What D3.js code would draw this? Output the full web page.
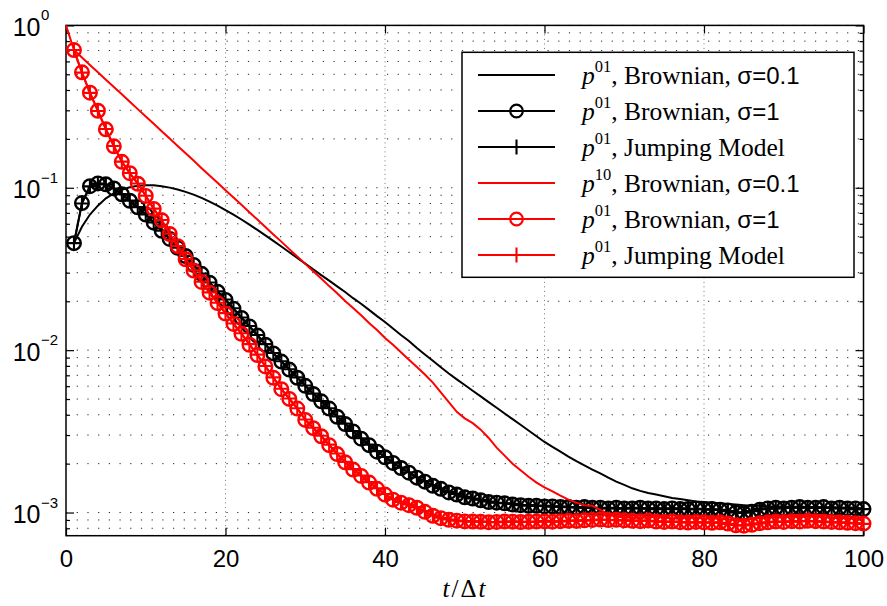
<!DOCTYPE html>
<html><head><meta charset="utf-8">
<script src="https://cdn.jsdelivr.net/npm/d3@7"></script>
<style>body{margin:0;background:#fff}</style>
</head><body>
<svg id="c" width="887" height="606"></svg>
<script>
// ---- data (t = 1..100 unless noted) ----
const tSteps = d3.range(1, 101);
const tStepsFrom0 = d3.range(0, 101);

const blackBrown01 = [0.0456,0.0575,0.0684,0.0776,0.0861,0.0923,0.0973,0.1007,0.1028,0.1038,
0.1035,0.1023,0.1002,0.0977,0.0944,0.0908,0.0867,0.0822,0.0776,0.0729,
0.0684,0.0638,0.0593,0.0550,0.0509,0.0471,0.0435,0.0401,0.0370,0.0341,
0.0315,0.0290,0.0268,0.0247,0.0228,0.0209,0.0193,0.0177,0.0162,0.0149,
0.0136,0.0124,0.0114,0.0103,0.00941,0.00860,0.00785,0.00718,0.00661,0.00610,
0.00562,0.00519,0.00479,0.00442,0.00407,0.00376,0.00347,0.00320,0.00295,0.00272,
0.00254,0.00237,0.00221,0.00207,0.00195,0.00184,0.00174,0.00164,0.00155,0.00148,
0.00141,0.00136,0.00132,0.00129,0.00126,0.00123,0.00121,0.00119,0.00117,0.00116,
0.00115,0.00114,0.00113,0.00112,0.00111,0.00110,0.00110,0.00109,0.00109,0.00109,
0.00108,0.00109,0.00108,0.00108,0.00107,0.00108,0.00107,0.00107,0.00107,0.00106];

const blackBrown1 = [0.0456,0.0805,0.1023,0.1064,0.1050,0.0991,0.0912,0.0832,0.0759,0.0684,
0.0610,0.0543,0.0484,0.0427,0.0380,0.0335,0.0295,0.0260,0.0229,0.0204,
0.0180,0.0158,0.0140,0.0123,0.0108,0.00955,0.00851,0.00759,0.00676,0.00603,
0.00537,0.00484,0.00437,0.00389,0.00351,0.00316,0.00285,0.00260,0.00237,0.00219,
0.00202,0.00188,0.00176,0.00164,0.00155,0.00146,0.00140,0.00133,0.00129,0.00124,
0.00122,0.00119,0.00116,0.00115,0.00114,0.00112,0.00111,0.00110,0.00110,0.00109,
0.00109,0.00108,0.00108,0.00107,0.00108,0.00107,0.00107,0.00106,0.00107,0.00106,
0.00106,0.00107,0.00106,0.00106,0.00105,0.00106,0.00105,0.00105,0.00106,0.00105,
0.00105,0.00104,0.00103,0.00100,0.00099,0.00101,0.00104,0.00106,0.00107,0.00106,
0.00107,0.00108,0.00107,0.00107,0.00108,0.00106,0.00107,0.00106,0.00106,0.00105];

const blackJump = [0.0456,0.0800,0.1020,0.1062,0.1048,0.0990,0.0914,0.0834,0.0760,0.0686,
0.0612,0.0545,0.0485,0.0428,0.0381,0.0336,0.0296,0.0261,0.0230,0.0205,
0.0181,0.0159,0.0141,0.0124,0.0109,0.00960,0.00855,0.00762,0.00680,0.00606,
0.00540,0.00486,0.00439,0.00391,0.00353,0.00318,0.00287,0.00262,0.00239,0.00220,
0.00203,0.00189,0.00177,0.00165,0.00156,0.00147,0.00141,0.00134,0.00130,0.00125,
0.00122,0.00120,0.00117,0.00115,0.00114,0.00113,0.00111,0.00111,0.00110,0.00110,
0.00109,0.00109,0.00108,0.00108,0.00107,0.00107,0.00106,0.00107,0.00106,0.00106,
0.00107,0.00106,0.00106,0.00105,0.00106,0.00105,0.00106,0.00105,0.00105,0.00105,
0.00104,0.00104,0.00102,0.00100,0.00100,0.00102,0.00105,0.00106,0.00106,0.00107,
0.00108,0.00107,0.00108,0.00107,0.00107,0.00107,0.00106,0.00107,0.00105,0.00105];

const redBrown01 = [1,0.705,0.635,0.571,0.515,0.463,0.418,0.377,0.339,0.305,0.275,
0.248,0.223,0.201,0.181,0.163,0.147,0.132,0.119,0.1074,0.0966,
0.0871,0.0785,0.0706,0.0637,0.0573,0.0516,0.0466,0.0419,0.0378,0.0340,
0.0306,0.0276,0.0248,0.0224,0.0201,0.0182,0.0164,0.0147,0.0133,0.0119,
0.0108,0.00971,0.00873,0.00787,0.00708,0.00631,0.00550,0.00479,0.00417,0.00380,
0.00355,0.00324,0.00288,0.00251,0.00224,0.00200,0.00182,0.00166,0.00153,0.00143,
0.00135,0.00127,0.00120,0.00115,0.00111,0.00110,0.00104,0.000977,0.000944,0.000933,
0.000930,0.000925,0.000935,0.000945,0.000930,0.000920,0.000925,0.000935,0.000930,0.000920,
0.000925,0.000915,0.000905,0.000895,0.000900,0.000915,0.000925,0.000930,0.000940,0.000935,
0.000945,0.000940,0.000950,0.000945,0.000935,0.000930,0.000925,0.000920,0.000915,0.000910];

const redBrown1 = [0.705,0.514,0.385,0.298,0.229,0.180,0.1445,0.1230,0.1059,0.0891,
0.0741,0.0631,0.0519,0.0437,0.0363,0.0309,0.0263,0.0226,0.0195,0.0168,
0.0145,0.0126,0.0108,0.00933,0.00794,0.00676,0.00575,0.00501,0.00437,0.00372,
0.00331,0.00295,0.00260,0.00229,0.00204,0.00184,0.00168,0.00153,0.00140,0.00129,
0.00120,0.00115,0.00111,0.00107,0.00101,0.000955,0.000923,0.000902,0.000891,0.000882,
0.000880,0.000876,0.000872,0.000875,0.000880,0.000878,0.000874,0.000876,0.000880,0.000882,
0.000878,0.000885,0.000890,0.000888,0.000895,0.000900,0.000905,0.000898,0.000902,0.000895,
0.000890,0.000885,0.000892,0.000880,0.000875,0.000880,0.000872,0.000868,0.000875,0.000870,
0.000865,0.000870,0.000855,0.000835,0.000830,0.000840,0.000860,0.000870,0.000880,0.000875,
0.000885,0.000880,0.000890,0.000885,0.000880,0.000875,0.000870,0.000865,0.000860,0.000855];

const redJump = [0.705,0.512,0.384,0.297,0.230,0.181,0.1448,0.1232,0.1062,0.0893,
0.0744,0.0633,0.0521,0.0438,0.0364,0.0310,0.0264,0.0227,0.0196,0.0169,
0.0146,0.0127,0.0109,0.00938,0.00798,0.00680,0.00578,0.00504,0.00439,0.00374,
0.00333,0.00297,0.00262,0.00231,0.00205,0.00185,0.00169,0.00154,0.00141,0.00130,
0.00121,0.00116,0.00112,0.00108,0.00102,0.000960,0.000928,0.000905,0.000892,0.000885,
0.000882,0.000880,0.000875,0.000872,0.000878,0.000880,0.000876,0.000874,0.000878,0.000885,
0.000880,0.000882,0.000888,0.000892,0.000893,0.000898,0.000902,0.000900,0.000898,0.000893,
0.000892,0.000888,0.000890,0.000882,0.000878,0.000878,0.000875,0.000870,0.000872,0.000868,
0.000868,0.000866,0.000852,0.000838,0.000835,0.000845,0.000858,0.000872,0.000878,0.000878,
0.000882,0.000884,0.000886,0.000882,0.000878,0.000872,0.000868,0.000866,0.000858,0.000852];

const xTicks = [0, 20, 40, 60, 80, 100];
const yMajor = [1, 0.1, 0.01, 0.001];
const yMajorExp = ["0", "\u22121", "\u22122", "\u22123"];
const legendSup = ["01", "01", "01", "10", "01", "01"];
const legendText = [", Brownian, ", ", Brownian, ", ", Jumping Model", ", Brownian, ", ", Brownian, ", ", Jumping Model"];
const legendSigma = ["0.1", "1", "", "0.1", "1", ""];

// ---- layout ----
const L = 66, R = 863.5, T = 25.4, B = 535.7;
const svg = d3.select("#c");
const x = d3.scaleLinear().domain([0, 100]).range([L, R]);
const y = d3.scaleLog().domain([7.2e-4, 1]).range([B, T]);
const SANS = "Liberation Sans, Arial, sans-serif";
const SERIF = "Liberation Serif, Times New Roman, serif";

// grid
const minorVals = [];
[1e-4, 1e-3, 1e-2, 1e-1].forEach(d => { for (let k = 1; k <= 9; k++) { const v = d * k; if (v >= 7.2e-4 && v <= 1) minorVals.push(v); } });
minorVals.push(1);
const grid = svg.append("g");
grid.selectAll("line.h").data(minorVals).join("line")
  .attr("x1", L).attr("x2", R).attr("y1", d => y(d)).attr("y2", d => y(d))
  .attr("stroke", "#222").attr("stroke-width", 1).attr("stroke-dasharray", "1.2,9.5");
grid.selectAll("line.v").data([20, 40, 60, 80]).join("line")
  .attr("x1", d => x(d)).attr("x2", d => x(d)).attr("y1", T).attr("y2", B)
  .attr("stroke", "#777").attr("stroke-width", 1).attr("stroke-dasharray", "1,3.5");

// axes
function styleAxis(g) { g.select(".domain").remove(); g.selectAll("line").attr("stroke", "#000").attr("stroke-width", 1.2); }
svg.append("g").attr("transform", `translate(0,${B})`)
  .call(d3.axisBottom(x).tickValues(xTicks).tickSize(-8).tickPadding(14).tickFormat(d3.format("d")))
  .call(styleAxis)
  .call(g => g.selectAll("text").attr("font-family", SANS).attr("font-size", 24).attr("fill", "#000"));
svg.append("g").attr("transform", `translate(0,${T})`)
  .call(d3.axisTop(x).tickValues(xTicks).tickSize(-8).tickFormat(() => "")).call(styleAxis);
const yl = svg.append("g").attr("transform", `translate(${L},0)`)
  .call(d3.axisLeft(y).tickValues(yMajor).tickSize(-8).tickFormat(() => "")).call(styleAxis);
svg.append("g").attr("transform", `translate(${L},0)`)
  .call(d3.axisLeft(y).tickValues(minorVals.filter(v => !yMajor.includes(v))).tickSize(-4).tickFormat(() => "")).call(styleAxis);
svg.append("g").attr("transform", `translate(${R},0)`)
  .call(d3.axisRight(y).tickValues(yMajor).tickSize(-8).tickFormat(() => "")).call(styleAxis);
svg.append("g").attr("transform", `translate(${R},0)`)
  .call(d3.axisRight(y).tickValues(minorVals.filter(v => !yMajor.includes(v))).tickSize(-4).tickFormat(() => "")).call(styleAxis);

// y tick labels 10^k
yl.selectAll(".tick").each(function (d, i) {
  d3.select(this).append("text").attr("x", -25.5).attr("y", 10)
    .attr("text-anchor", "end").attr("fill", "#000")
    .attr("font-family", SANS).attr("font-size", 25).text("10");
  d3.select(this).append("text").attr("x", -25).attr("y", -5.5).attr("text-anchor", "start").attr("fill", "#000")
    .attr("font-family", SANS).attr("font-size", 15).text(yMajorExp[i]);
});

// box
svg.append("rect").attr("x", L).attr("y", T).attr("width", R - L).attr("height", B - T)
  .attr("fill", "none").attr("stroke", "#000").attr("stroke-width", 1.5);

// series
const line = d3.line().x(d => x(d[0])).y(d => y(d[1]));
const series = [
  { data: blackBrown01, ts: tSteps, color: "#000", marker: null },
  { data: blackBrown1, ts: tSteps, color: "#000", marker: "circle" },
  { data: blackJump, ts: tSteps, color: "#000", marker: "plus" },
  { data: redBrown01, ts: tStepsFrom0, color: "#f00", marker: null },
  { data: redBrown1, ts: tSteps, color: "#f00", marker: "circle" },
  { data: redJump, ts: tSteps, color: "#f00", marker: "plus" }
];
const plotG = svg.append("g");
series.forEach(s => {
  const pts = s.data.map((v, i) => [s.ts[i], v]);
  plotG.append("path").attr("d", line(pts)).attr("fill", "none").attr("stroke", s.color).attr("stroke-width", 2);
  if (s.marker === "circle") {
    plotG.append("g").selectAll("circle").data(pts).join("circle")
      .attr("cx", d => x(d[0])).attr("cy", d => y(d[1])).attr("r", 6.8)
      .attr("fill", "none").attr("stroke", s.color).attr("stroke-width", 2.4);
  } else if (s.marker === "plus") {
    plotG.append("g").selectAll("path").data(pts).join("path")
      .attr("transform", d => `translate(${x(d[0])},${y(d[1])})`)
      .attr("d", "M-6.8,0H6.8M0,-6.8V6.8").attr("stroke", s.color).attr("stroke-width", 2.1);
  }
});

// legend
const lg = svg.append("g");
lg.append("rect").attr("x", 462).attr("y", 52.3).attr("width", 392).attr("height", 225)
  .attr("fill", "#fff").attr("stroke", "#000").attr("stroke-width", 1.5);
series.forEach((s, i) => {
  const cy = 75 + i * 36;
  lg.append("line").attr("x1", 478).attr("x2", 555).attr("y1", cy).attr("y2", cy).attr("stroke", s.color).attr("stroke-width", 2);
  if (s.marker === "circle") lg.append("circle").attr("cx", 516.5).attr("cy", cy).attr("r", 6.3).attr("fill", "none").attr("stroke", s.color).attr("stroke-width", 2.2);
  if (s.marker === "plus") lg.append("path").attr("transform", `translate(516.5,${cy})`).attr("d", "M-6.5,0H6.5M0,-7.5V7.5").attr("stroke", s.color).attr("stroke-width", 2.1);
  const tx = lg.append("text").attr("x", 582).attr("y", cy + 8.5).attr("fill", "#000")
    .attr("font-family", SERIF).attr("font-size", 25.5);
  tx.append("tspan").attr("font-style", "italic").text("p");
  tx.append("tspan").attr("font-size", 16.5).attr("dy", -11.5).text(legendSup[i]);
  tx.append("tspan").attr("dy", 11.5).text(legendText[i]);
  if (legendSigma[i]) {
    tx.append("tspan").attr("font-family", SANS).attr("font-size", 24).text("\u03c3=" + legendSigma[i]);
  }
});

// x label
const xl = svg.append("text").attr("x", 465).attr("y", 597).attr("text-anchor", "middle").attr("fill", "#000")
  .attr("font-family", SERIF).attr("font-size", 25).attr("letter-spacing", 2);
xl.append("tspan").attr("font-style", "italic").text("t");
xl.append("tspan").text("/\u0394");
xl.append("tspan").attr("font-style", "italic").text("t");
</script>
</body></html>
